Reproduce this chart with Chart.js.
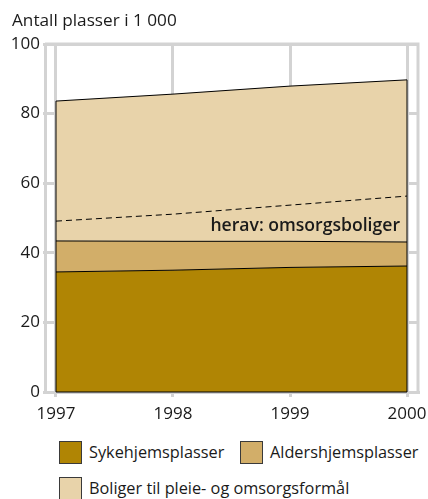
<!DOCTYPE html>
<html>
<head>
<meta charset="utf-8">
<script src="https://cdn.jsdelivr.net/npm/chart.js@4.4.1/dist/chart.umd.min.js"></script>
<style>
  body { margin: 0; background: #fff; font-family: "Open Sans", sans-serif; color: #1a1a1a; }
  #wrap { position: relative; width: 428px; height: 499px; }
  #box { position: absolute; left: 0; top: 0; width: 428px; height: 430px; }
  #title { position: absolute; left: 12px; top: 8px; font-size: 17.2px; line-height: 24px; }
  .leg { position: absolute; font-size: 16.3px; line-height: 22px; white-space: nowrap; }
  .leg span { display: inline-block; width: 21px; height: 21px; border: 1px solid #3a3a3a; vertical-align: top; margin-right: 7px; }
</style>
</head>
<body>
<div id="wrap">
  <div id="box"><canvas id="chart"></canvas></div>
  <div id="title">Antall plasser i 1 000</div>
  <div class="leg" style="left:59px; top:441px;"><span style="background:#b08504"></span>Sykehjemsplasser</div>
  <div class="leg" style="left:240px; top:441px;"><span style="background:#d2ae69"></span>Aldershjemsplasser</div>
  <div class="leg" style="left:59px; top:477px;"><span style="background:#e8d3aa"></span>Boliger til pleie- og omsorgsformål</div>
</div>
<script>
// years on x axis
var years = [1997, 1998, 1999, 2000];
var yTicks = [0, 20, 40, 60, 80, 100];

// places in thousands
var sykehjem = [34.5, 35.0, 35.8, 36.2];
var aldershjem = [8.9, 8.3, 7.5, 6.9];
var boliger = [40.2, 42.3, 44.6, 46.6];
// of which omsorgsboliger (part of boliger)
var omsorgsboliger = [5.7, 7.8, 10.4, 13.2];

var colSyke = '#b08504';
var colAlders = '#d2ae69';
var colBoliger = '#e8d3aa';
var gridCol = '#d3d3d3';

function pts(arr) {
    return years.map(function (y, i) { return { x: y, y: arr[i] }; });
}
var cum1 = sykehjem.slice();
var cum2 = cum1.map(function (v, i) { return v + aldershjem[i]; });
var cum3 = cum2.map(function (v, i) { return v + boliger[i]; });
var dashed = cum2.map(function (v, i) { return v + omsorgsboliger[i]; });

var framePlugin = {
    id: 'frame',
    beforeDatasetsDraw: function (chart) {
        var a = chart.chartArea, c = chart.ctx;
        c.save();
        c.strokeStyle = gridCol;
        c.lineWidth = 3;
        c.beginPath();
        c.moveTo(a.left, a.top);
        c.lineTo(a.right, a.top);
        c.lineTo(a.right, a.bottom);
        c.stroke();
        c.restore();
    },
    afterDatasetsDraw: function (chart) {
        var x = chart.scales.x, y = chart.scales.y, c = chart.ctx;
        var x0 = x.getPixelForValue(years[0]);
        var x1 = x.getPixelForValue(years[years.length - 1]);
        var y0 = y.getPixelForValue(0);
        c.save();
        c.strokeStyle = '#000';
        c.lineWidth = 1;
        c.beginPath();
        c.moveTo(x0, y.getPixelForValue(cum3[0]));
        c.lineTo(x0, y0);
        c.lineTo(x1, y0);
        c.lineTo(x1, y.getPixelForValue(cum3[cum3.length - 1]));
        c.stroke();
        c.fillStyle = '#1a1a1a';
        c.font = '600 17.6px "Open Sans"';
        c.textAlign = 'right';
        c.textBaseline = 'middle';
        c.fillText('herav: omsorgsboliger', x1 - 7, y.getPixelForValue(47.6));
        c.restore();
    }
};

new Chart(document.getElementById('chart'), {
    type: 'line',
    data: {
        datasets: [
            { label: 'Sykehjemsplasser', data: pts(cum1), fill: 'origin', backgroundColor: colSyke, borderColor: '#000', borderWidth: 1 },
            { label: 'Aldershjemsplasser', data: pts(cum2), fill: '-1', backgroundColor: colAlders, borderColor: '#000', borderWidth: 1 },
            { label: 'Boliger til pleie- og omsorgsformål', data: pts(cum3), fill: '-1', backgroundColor: colBoliger, borderColor: '#000', borderWidth: 1 },
            { label: 'herav: omsorgsboliger', data: pts(dashed), fill: false, borderColor: '#000', borderWidth: 1, borderDash: [6, 4], order: -1 }
        ]
    },
    options: {
        responsive: true,
        maintainAspectRatio: false,
        animation: false,
        elements: { point: { radius: 0 }, line: { tension: 0 } },
        layout: { padding: { left: 12, right: 10, top: 44, bottom: 8 } },
        plugins: { legend: { display: false }, tooltip: { enabled: false }, title: { display: false } },
        scales: {
            x: {
                type: 'linear',
                min: 1996.906,
                max: 2000.094,
                afterBuildTicks: function (s) { s.ticks = years.map(function (v) { return { value: v }; }); },
                afterFit: function (s) { s.height = 30; s.paddingLeft = 0; s.paddingRight = 0; },
                grid: { color: gridCol, lineWidth: 3, tickLength: 5 },
                border: { color: gridCol, width: 3 },
                ticks: { padding: 7, color: '#1a1a1a', font: { family: 'Open Sans', size: 17 }, maxRotation: 0, callback: function (v) { return String(v); } }
            },
            y: {
                min: 0,
                max: 100,
                afterBuildTicks: function (s) { s.ticks = yTicks.map(function (v) { return { value: v }; }); },
                afterFit: function (s) { s.width = 33; s.paddingTop = 0; s.paddingBottom = 0; },
                grid: { color: gridCol, lineWidth: 3, tickLength: 2 },
                border: { color: gridCol, width: 3 },
                ticks: { padding: 3, color: '#1a1a1a', font: { family: 'Open Sans', size: 17 } }
            }
        }
    },
    plugins: [framePlugin]
});
</script>
</body>
</html>
